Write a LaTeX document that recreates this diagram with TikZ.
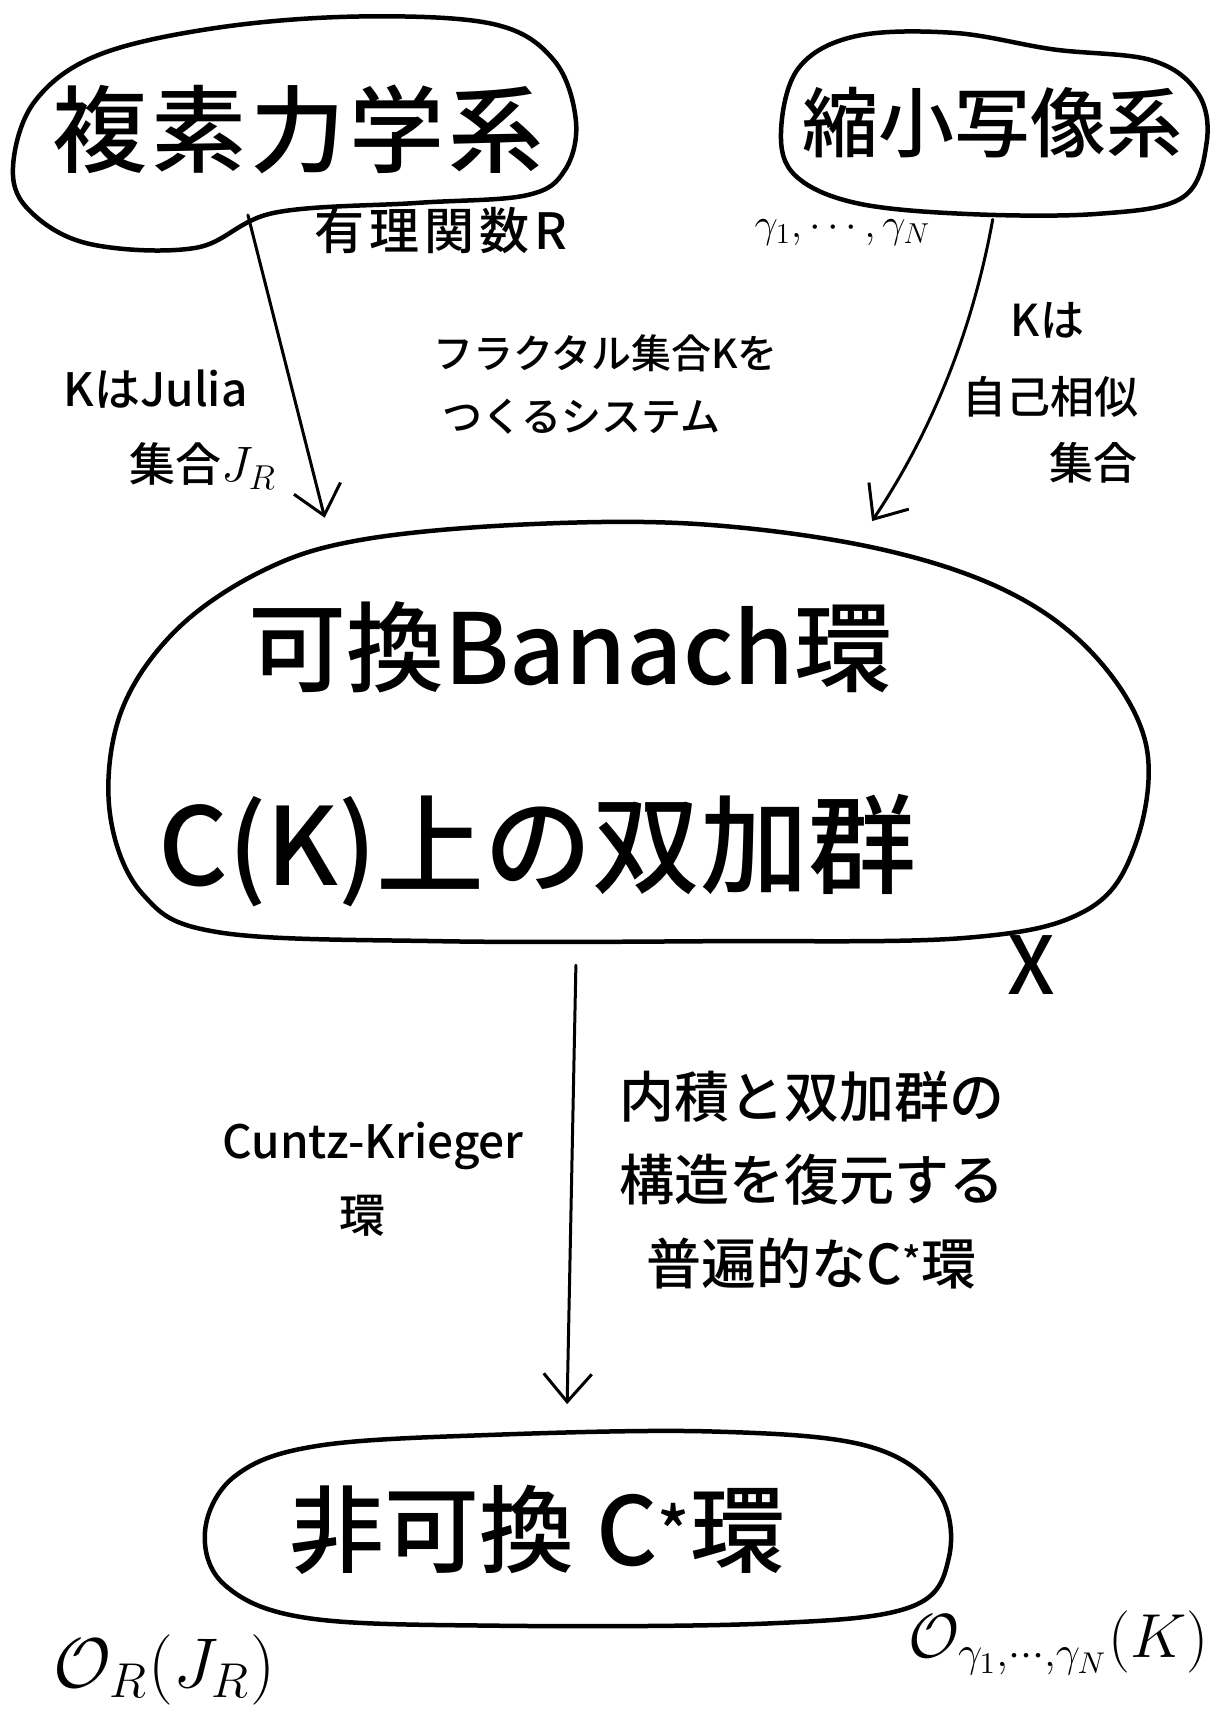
\documentclass[tikz,border=0pt]{standalone}
\usepackage{fontspec}
\setmainfont{Noto Sans CJK JP}[UprightFont={* Medium},BoldFont={* Bold}]
\usetikzlibrary{arrows.meta}
\newcommand\myfs[1]{\fontsize{#1}{#1}\selectfont}
\begin{document}
\begin{tikzpicture}[x=1.0974pt,y=-1.0974pt,
  blob/.style={line width=4.5pt, line join=round, smooth cycle, tension=0.6},
  conn/.style={line width=3pt, line cap=round, -{Straight Barb[length=28pt,width=48pt,line width=3pt]}},
  lbl/.style={inner sep=0pt, anchor=center}]
\useasboundingbox (0,0) rectangle (1109,1568);

% blobs
\draw[blob] plot coordinates {(12,150) (32,92) (90,50) (200,25) (330,15) (450,22) (505,55) (525,110) (515,155) (480,178) (380,185) (250,194) (178,226) (80,222) (25,190)};
\draw[blob] plot coordinates {(712,120) (728,62) (780,33) (870,30) (960,45) (1050,55) (1092,85) (1100,130) (1078,180) (1000,195) (880,195) (780,185) (725,160)};
\draw[blob] plot coordinates {(100,740) (110,650) (160,575) (240,520) (330,492) (480,478) (640,478) (800,500) (920,540) (1000,600) (1045,680) (1035,770) (990,830) (880,855) (650,858) (400,858) (200,850) (130,815)};
\draw[blob] plot coordinates {(187,1395) (215,1345) (290,1318) (450,1308) (650,1305) (790,1318) (855,1360) (865,1420) (830,1465) (700,1480) (450,1482) (280,1475) (205,1445)};

% main texts
\node[lbl] (cds) at (272,118) {\myfs{95}複\hspace{4pt}素\hspace{4pt}力\hspace{4pt}学\hspace{4pt}系};
\node[lbl] (cms) at (905,112) {\myfs{76}縮小写像系};
\node[lbl] (cba) at (520,590) {\myfs{98}可換Banach環};
\node[lbl] (cbm) at (490,775) {\myfs{108}C(K)上の双加群};
\node[lbl] (ncc) at (490,1395) {\myfs{95}非可換 C\textsuperscript{*}環};
\node[lbl] (xx) at (940,880) {\myfs{80}X};

% labels
\node[lbl] (rat) at (402,210) {\myfs{50}有\hspace{5pt}理\hspace{5pt}関\hspace{5pt}数\hspace{5pt}R};
\node[lbl,scale=2] (gam) at (768,212) {\myfs{21}$\gamma_1,\cdots,\gamma_N$};
\node[lbl] (kj1) at (142,355) {\myfs{46}KはJulia};
\node[lbl,scale=2] (kj2) at (185,425) {\myfs{23}集合$J_R$};
\node[lbl] (fr1) at (552,322) {\myfs{40}フラクタル集合Kを};
\node[lbl] (fr2) at (530,380) {\myfs{40}つくるシステム};
\node[lbl] (ks1) at (955,292) {\myfs{44}Kは};
\node[lbl] (ks2) at (958,362) {\myfs{44}自己相似};
\node[lbl] (ks3) at (997,422) {\myfs{44}集合};
\node[lbl] (ck1) at (340,1045) {\myfs{46}Cuntz-Krieger};
\node[lbl] (ck2) at (330,1108) {\myfs{46}環};
\node[lbl] (un1) at (740,1000) {\myfs{55}内積と双加群の};
\node[lbl] (un2) at (740,1075) {\myfs{55}構造を復元する};
\node[lbl] (un3) at (740,1152) {\myfs{55}普遍的なC\textsuperscript{*}環};
\node[lbl,scale=3.4] (ojr) at (150,1522) {\myfs{20}$\mathcal{O}_R(J_R)$};
\node[lbl,scale=3] (ogk) at (965,1498) {\myfs{20}$\mathcal{O}_{\gamma_1,\cdots,\gamma_N}(K)$};

% connector endpoints
\coordinate (la) at (226,196);
\coordinate (lb) at (296,472);
\coordinate (ra) at (905,200);
\coordinate (rb) at (795,475);
\coordinate (ma) at (525,880);
\coordinate (mb) at (517,1280);

\draw[conn] (la) -- (lb);
\draw[conn] (ra) .. controls (885,310) and (845,400) .. (rb);
\draw[conn] (ma) -- (mb);
\end{tikzpicture}
\end{document}
